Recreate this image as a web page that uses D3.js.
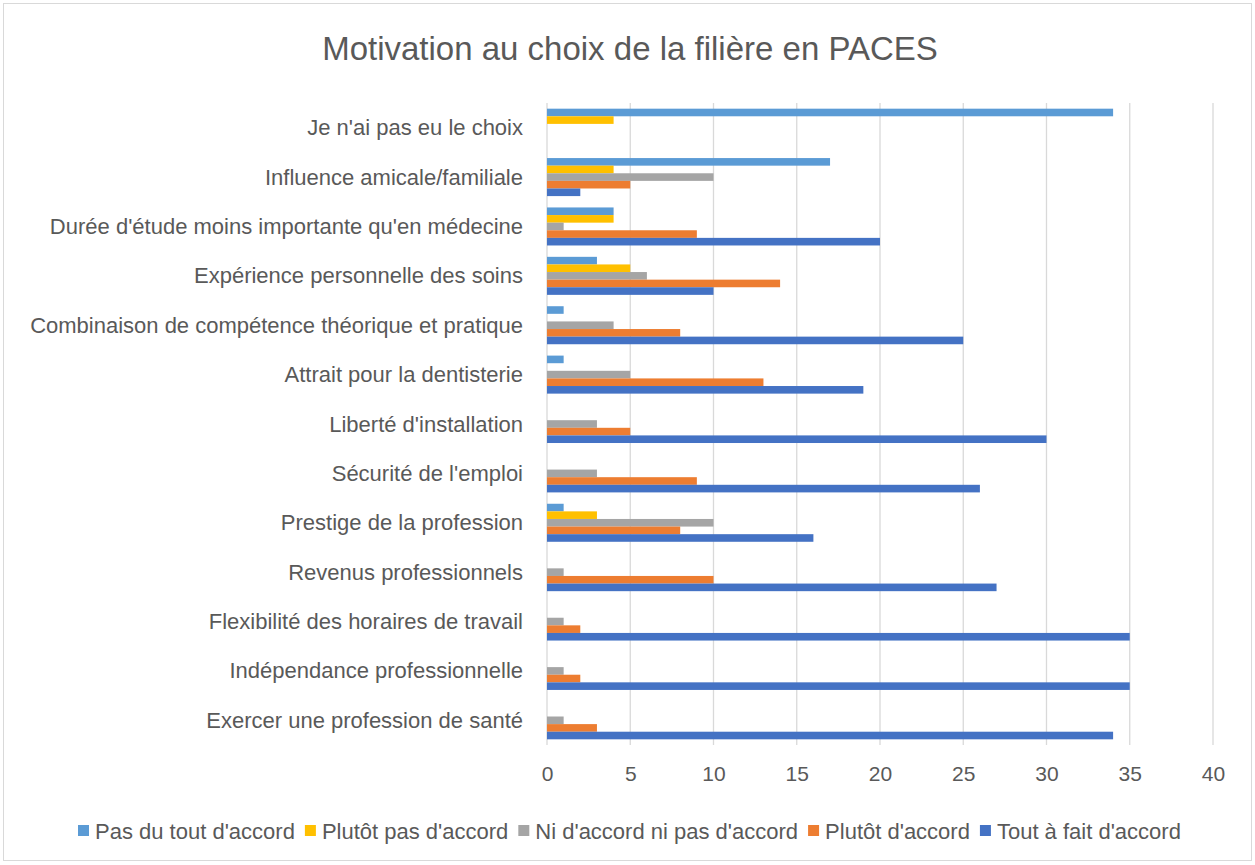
<!DOCTYPE html>
<html>
<head>
<meta charset="utf-8">
<script src="https://cdn.jsdelivr.net/npm/d3@7"></script>
<style>
  body { margin: 0; background: #fff; }
  svg { display: block; }
  text { font-family: "Liberation Sans", Arial, sans-serif; fill: #595959; }
</style>
</head>
<body>
<svg id="chart" width="1255" height="865"></svg>
<script>
// catégories (de haut en bas)
const categories = [
  "Je n'ai pas eu le choix",
  "Influence amicale/familiale",
  "Durée d'étude moins importante qu'en médecine",
  "Expérience personnelle des soins",
  "Combinaison de compétence théorique et pratique",
  "Attrait pour la dentisterie",
  "Liberté d'installation",
  "Sécurité de l'emploi",
  "Prestige de la profession",
  "Revenus professionnels ",
  "Flexibilité des horaires de travail",
  "Indépendance professionnelle",
  "Exercer une profession de santé"
];

const seriesNames = [
  "Pas du tout d'accord",
  "Plutôt pas d'accord",
  "Ni d'accord ni pas d'accord",
  "Plutôt d'accord",
  "Tout à fait d'accord"
];
const seriesColors = ["#5B9BD5", "#FFC000", "#A5A5A5", "#ED7D31", "#4472C4"];

// valeurs par série, dans l'ordre des catégories
const pasDuTout   = [34, 17, 4, 3, 1, 1, 0, 0, 1, 0, 0, 0, 0];
const plutotPas   = [4, 4, 4, 5, 0, 0, 0, 0, 3, 0, 0, 0, 0];
const niNi        = [0, 10, 1, 6, 4, 5, 3, 3, 10, 1, 1, 1, 1];
const plutotAcc   = [0, 5, 9, 14, 8, 13, 5, 9, 8, 10, 2, 2, 3];
const toutAFait   = [0, 2, 20, 10, 25, 19, 30, 26, 16, 27, 35, 35, 34];
const seriesValues = [pasDuTout, plutotPas, niNi, plutotAcc, toutAFait];

const xTicks = [0, 5, 10, 15, 20, 25, 30, 35, 40];

const svg = d3.select("#chart");

// cadre du graphique
svg.append("rect")
  .attr("x", 3.5).attr("y", 3.5)
  .attr("width", 1248).attr("height", 857)
  .attr("fill", "#fff").attr("stroke", "#D9D9D9");

const plot = { left: 547, right: 1213, top: 103, bottom: 745 };

const x = d3.scaleLinear().domain([0, 40]).range([plot.left, plot.right]);
const y0 = d3.scaleBand().domain(categories).range([plot.top, plot.bottom])
  .paddingInner(0.23).paddingOuter(0.115);
const y1 = d3.scaleBand().domain(d3.range(seriesNames.length)).range([0, y0.bandwidth()]);

// titre
svg.append("text")
  .attr("x", 630).attr("y", 60)
  .attr("text-anchor", "middle")
  .style("font-size", "33px")
  .text("Motivation au choix de la filière en PACES");

// grille verticale
svg.append("g").selectAll("line")
  .data(xTicks)
  .join("line")
  .attr("x1", d => x(d)).attr("x2", d => x(d))
  .attr("y1", plot.top).attr("y2", plot.bottom)
  .attr("stroke", "#D9D9D9").attr("stroke-width", 1.3);

// barres
const groups = svg.append("g").selectAll("g")
  .data(categories)
  .join("g")
  .attr("transform", d => `translate(0,${y0(d)})`);

groups.selectAll("rect")
  .data((d, i) => seriesValues.map((vals, s) => ({ s, v: vals[i] })))
  .join("rect")
  .attr("x", x(0))
  .attr("y", d => y1(d.s))
  .attr("width", d => x(d.v) - x(0))
  .attr("height", y1.bandwidth())
  .attr("fill", d => seriesColors[d.s]);

// étiquettes des catégories
svg.append("g").selectAll("text")
  .data(categories)
  .join("text")
  .attr("x", 523)
  .attr("y", d => y0(d) + y0.bandwidth() / 2)
  .attr("text-anchor", "end")
  .attr("dominant-baseline", "central")
  .style("font-size", "22px")
  .text(d => d);

// axe x
const xAxis = svg.append("g")
  .attr("transform", `translate(0,${plot.bottom})`)
  .call(d3.axisBottom(x).tickValues(xTicks).tickSize(0).tickPadding(21));
xAxis.select(".domain").remove();
xAxis.selectAll("text")
  .style("font-size", "21px")
  .style("font-family", "'Liberation Sans', Arial, sans-serif")
  .attr("fill", "#595959");

// légende
const legend = svg.append("g").attr("transform", "translate(78,831)");
let lx = 0;
seriesNames.forEach((name, i) => {
  const g = legend.append("g").attr("transform", `translate(${lx},0)`);
  g.append("rect").attr("x", 0).attr("y", -6).attr("width", 11).attr("height", 11)
    .attr("fill", seriesColors[i]);
  const t = g.append("text").attr("x", 17).attr("y", 0)
    .attr("dominant-baseline", "central")
    .style("font-size", "22px")
    .text(name);
  lx += 17 + t.node().getComputedTextLength() + 10;
});
</script>
</body>
</html>
